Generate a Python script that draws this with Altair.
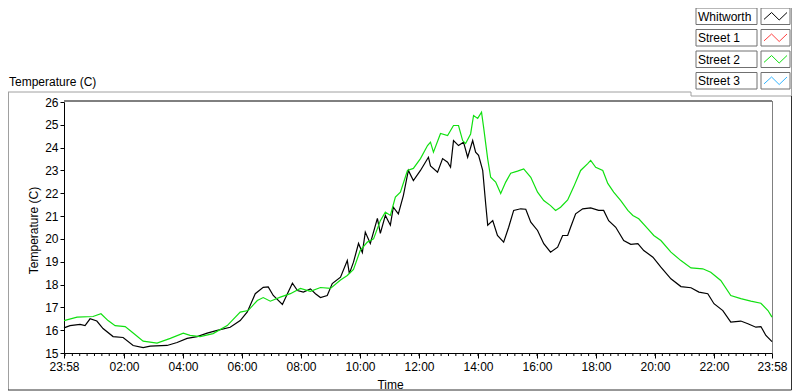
import altair as alt
import pandas as pd

# ---------------- data (hours after midnight, degrees C) ----------------
whit_hours = [-0.033, 0.17, 0.51, 0.68, 0.85, 1.08, 1.29, 1.63, 1.97, 2.31, 2.65, 2.89, 3.46, 3.80,
              4.14, 4.48, 4.82, 5.16, 5.60, 5.94, 6.18, 6.35, 6.45, 6.72, 6.89, 7.06, 7.37, 7.54,
              7.71, 7.88, 8.08, 8.32, 8.49, 8.66, 8.89, 9.06, 9.34, 9.57, 9.64, 9.78, 9.95, 10.08,
              10.18, 10.35, 10.59, 10.69, 10.86, 11.03, 11.13, 11.30, 11.47, 11.64, 11.81, 12.05,
              12.32, 12.39, 12.63, 12.80, 12.97, 13.07, 13.17, 13.34, 13.51, 13.65, 13.82, 13.92,
              14.02, 14.16, 14.26, 14.33, 14.50, 14.66, 14.87, 15.04, 15.21, 15.45, 15.62, 15.79,
              16.02, 16.23, 16.46, 16.70, 16.87, 17.04, 17.14, 17.31, 17.55, 17.82, 18.09, 18.26,
              18.43, 18.67, 18.94, 19.18, 19.42, 19.62, 19.93, 20.20, 20.54, 20.88, 21.22, 21.49,
              21.79, 22.00, 22.30, 22.57, 22.91, 23.15, 23.42, 23.59, 23.76, 23.967]
whit_temp = [16.1, 16.2, 16.25, 16.2, 16.5, 16.4, 16.07, 15.72, 15.68, 15.33, 15.24, 15.3, 15.33, 15.46,
             15.64, 15.72, 15.87, 15.99, 16.13, 16.42, 16.8, 17.3, 17.6, 17.88, 17.9, 17.52, 17.13, 17.6,
             18.06, 17.74, 17.67, 17.81, 17.6, 17.43, 17.52, 18.04, 18.32, 19.05, 18.48, 18.98, 19.8, 19.4,
             20.3, 19.8, 20.9, 20.24, 21.03, 20.6, 21.39, 21.1, 21.9, 23.0, 22.56, 23.0,
             23.58, 23.2, 22.92, 23.52, 23.36, 23.14, 24.31, 24.09, 24.24, 23.58, 24.31, 23.8,
             23.66, 23.0, 21.55, 20.6, 20.8, 20.15, 19.86, 20.51, 21.25, 21.32, 21.3, 20.73,
             20.37, 19.79, 19.42, 19.64, 20.15, 20.15, 20.51, 21.1, 21.32, 21.36, 21.25, 21.25,
             20.8, 20.51, 19.93, 19.76, 19.79, 19.49, 19.2, 18.76, 18.25, 17.91, 17.86, 17.67,
             17.6, 17.16, 16.86, 16.35, 16.4, 16.28, 16.13, 16.16, 15.77, 15.5]

st2_hours = [-0.033, 0.41, 0.95, 1.22, 1.46, 1.70, 2.04, 2.28, 2.65, 3.12, 3.57, 4.01, 4.24, 4.58,
             5.02, 5.50, 5.94, 6.21, 6.52, 6.72, 6.96, 7.30, 7.64, 7.98, 8.32, 8.66, 9.00, 9.34,
             9.57, 9.78, 10.01, 10.25, 10.46, 10.69, 10.86, 11.03, 11.20, 11.37, 11.61, 11.81,
             12.05, 12.29, 12.39, 12.49, 12.73, 12.97, 13.17, 13.34, 13.48, 13.58, 13.75, 13.85,
             13.99, 14.12, 14.19, 14.33, 14.43, 14.60, 14.77, 14.94, 15.11, 15.34, 15.55, 15.79,
             16.02, 16.23, 16.46, 16.63, 16.80, 17.04, 17.24, 17.48, 17.72, 17.82, 17.99, 18.23,
             18.40, 18.60, 18.84, 19.08, 19.25, 19.45, 19.76, 19.96, 20.20, 20.54, 20.88, 21.22,
             21.62, 21.89, 22.23, 22.57, 22.91, 23.25, 23.59, 23.83, 23.967]
st2_temp = [16.42, 16.57, 16.6, 16.72, 16.42, 16.2, 16.16, 15.91, 15.52, 15.43, 15.64, 15.87, 15.77, 15.72,
            15.85, 16.2, 16.79, 16.86, 17.3, 17.43, 17.27, 17.45, 17.6, 17.83, 17.7, 17.87, 17.83, 18.2,
            18.4, 18.66, 19.5, 19.86, 20.0, 20.8, 21.17, 21.03, 21.83, 22.05, 23.0, 23.09,
            23.52, 24.09, 24.24, 23.8, 24.62, 24.53, 24.97, 24.97, 24.31, 24.18, 24.6, 25.41,
            25.28, 25.55, 24.9, 23.5, 22.7, 22.49, 21.99, 22.49, 22.88, 22.97, 23.07, 22.7,
            22.05, 21.68, 21.46, 21.25, 21.39, 21.71, 22.27, 23.0, 23.3, 23.44, 23.14, 23.0,
            22.43, 22.05, 21.68, 21.25, 21.03, 20.88, 20.44, 20.15, 19.93, 19.42, 19.05, 18.73,
            18.69, 18.54, 18.18, 17.52, 17.38, 17.27, 17.18, 16.86, 16.57]

legend_names = ["Whitworth", "Street 1", "Street 2", "Street 3"]
legend_colors = ["#000000", "#ff4040", "#10e010", "#33b5ff"]
plotted = ["Whitworth", "Street 2"]

x_min, x_max = -2 / 60, 24 - 2 / 60
x_major = [x_min] + list(range(2, 23, 2)) + [x_max]
x_minor = [0.25 * i for i in range(0, 96)]
y_ticks = list(range(15, 27))

# ---------------- layout (pixels relative to plot origin) ----------------
W, H = 708, 251
font = "Liberation Sans"
R = 727.5  # right edge of outer frame

df = pd.concat([
    pd.DataFrame({"h": whit_hours, "t": whit_temp, "s": "Whitworth"}),
    pd.DataFrame({"h": st2_hours, "t": st2_temp, "s": "Street 2"}),
])

xscale = alt.Scale(domain=[x_min, x_max], nice=False, zero=False)
lines = alt.Chart(df).mark_line(strokeWidth=1.2, interpolate="linear").encode(
    x=alt.X("h:Q", scale=xscale,
            axis=alt.Axis(values=x_major, title="Time", tickSize=5, labelPadding=3,
                          labelFlush=False, labelOverlap=False, grid=False,
                          labelExpr="(datum.value < 1 || datum.value > 23) ? '23:58' : "
                                    "(datum.value < 10 ? '0' + datum.value : '' + datum.value) + ':00'",
                          titleX=326, titleY=31, titleBaseline="middle")),
    y=alt.Y("t:Q", scale=alt.Scale(domain=[15, 26], nice=False, zero=False),
            axis=alt.Axis(values=y_ticks, title="Temperature (C)", tickSize=4, labelPadding=2,
                          labelFlush=False, grid=False, titleX=-31, titleY=128,
                          titleBaseline="middle", titleAlign="center")),
    color=alt.Color("s:N", scale=alt.Scale(domain=plotted, range=[legend_colors[0], legend_colors[2]]),
                    legend=None),
    detail="s:N",
)

minor = alt.Chart(pd.DataFrame({"m": x_minor})).mark_rule(color="black", strokeWidth=1).encode(
    x=alt.X("m:Q", scale=xscale, axis=None),
    y=alt.value(H), y2=alt.value(H + 3),
)

# frame lines
frame = pd.DataFrame([
    {"x1": 0, "x2": W, "y1": -1, "y2": -1, "c": "#000000"},
    {"x1": W + 0.5, "x2": W + 0.5, "y1": -1, "y2": H, "c": "#808080"},
    {"x1": -56, "x2": 627, "y1": -10, "y2": -10, "c": "#a0a0a0"},
    {"x1": 627, "x2": 627, "y1": -10, "y2": -6, "c": "#a0a0a0"},
    {"x1": 627, "x2": R, "y1": -6, "y2": -6, "c": "#a0a0a0"},
    {"x1": -55.5, "x2": -55.5, "y1": -10, "y2": 288, "c": "#a0a0a0"},
    {"x1": R, "x2": R, "y1": -94, "y2": -6, "c": "#a0a0a0"},
    {"x1": R, "x2": R, "y1": -6, "y2": 288, "c": "#303030"},
    {"x1": -56, "x2": R, "y1": 288, "y2": 288, "c": "#303030"},
])
frame_layer = alt.Chart(frame).mark_rule(strokeWidth=1).encode(
    x=alt.X("x1:Q", scale=None, axis=None), x2="x2:Q",
    y=alt.Y("y1:Q", scale=None, axis=None), y2="y2:Q",
    color=alt.Color("c:N", scale=None),
)

# legend
row_tops = [-94, -72.5, -51, -29.5]
row_h = 16.5
boxes = []
texts = []
icons = []
zig = [(0.0, 0.75), (0.33, 0.2), (0.66, 0.8), (1.0, 0.2)]
for name, col, top in zip(legend_names, legend_colors, row_tops):
    boxes.append({"x1": 632, "x2": 693, "y1": top, "y2": top + row_h})
    boxes.append({"x1": 697, "x2": 726, "y1": top, "y2": top + row_h})
    texts.append({"x": 634, "y": top + row_h / 2 + 0.5, "n": name})
    for fx, fy in zig:
        icons.append({"x": 700 + fx * 23, "y": top + 2 + fy * (row_h - 4), "n": name, "c": col})

box_layer = alt.Chart(pd.DataFrame(boxes)).mark_rect(fill="white", stroke="#707070", strokeWidth=1).encode(
    x=alt.X("x1:Q", scale=None, axis=None), x2="x2:Q",
    y=alt.Y("y1:Q", scale=None, axis=None), y2="y2:Q",
)
text_layer = alt.Chart(pd.DataFrame(texts)).mark_text(
    align="left", baseline="middle", font=font, fontSize=12, color="black").encode(
    x=alt.X("x:Q", scale=None, axis=None), y=alt.Y("y:Q", scale=None, axis=None), text="n:N",
)
icon_layer = alt.Chart(pd.DataFrame(icons)).mark_line(strokeWidth=1).encode(
    x=alt.X("x:Q", scale=None, axis=None), y=alt.Y("y:Q", scale=None, axis=None),
    detail="n:N", color=alt.Color("c:N", scale=None),
)

title_layer = alt.Chart(pd.DataFrame({"x": [-55], "y": [-20], "n": ["Temperature (C)"]})).mark_text(
    align="left", baseline="middle", font=font, fontSize=12, color="black").encode(
    x=alt.X("x:Q", scale=None, axis=None), y=alt.Y("y:Q", scale=None, axis=None), text="n:N",
)

chart = alt.layer(
    frame_layer, box_layer, text_layer, icon_layer, title_layer, minor, lines
).resolve_scale(
    x="independent", y="independent", color="independent"
).properties(
    width=W, height=H,
    autosize=alt.AutoSizeParams(type="none"),
    padding={"left": 56, "top": 94, "right": 20, "bottom": 39},
    background="white",
).configure_view(stroke=None).configure_axis(
    labelFont=font, labelFontSize=12, labelColor="black",
    titleFont=font, titleFontSize=12, titleFontWeight="normal", titleColor="black",
    domainColor="black", tickColor="black", domainWidth=1, tickWidth=1,
)

chart.save("out.html", embed_options={"renderer": "svg", "actions": False})
